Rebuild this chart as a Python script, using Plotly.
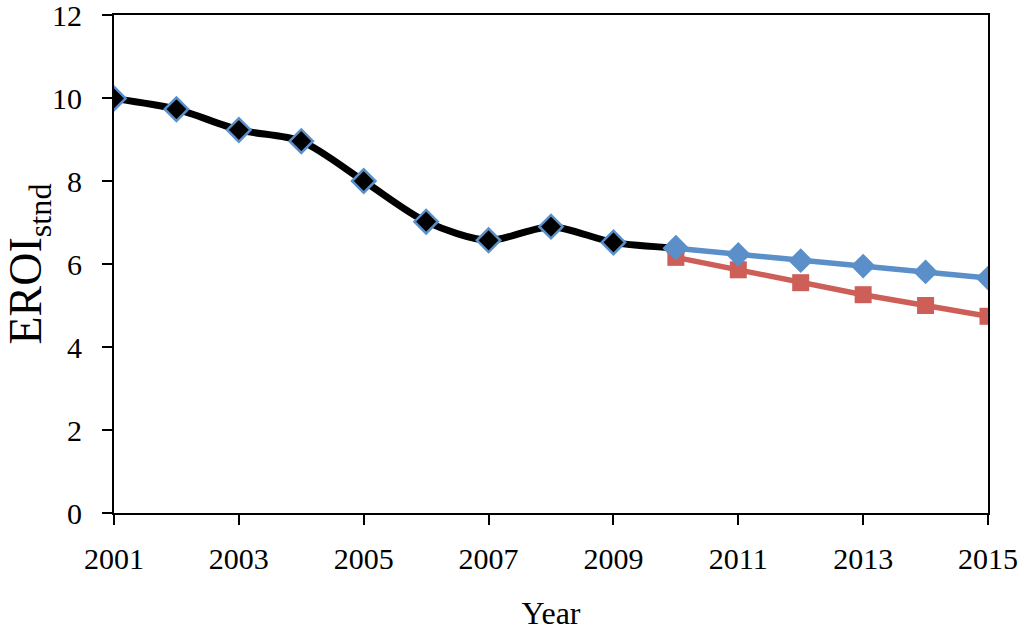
import plotly.graph_objects as go

# historical EROI (black, smoothed) and two projections
years_hist = [2001, 2002, 2003, 2004, 2005, 2006, 2007, 2008, 2009, 2010]
eroi_hist = [9.99, 9.73, 9.23, 8.96, 8.0, 7.02, 6.57, 6.9, 6.52, 6.38]

years_proj = [2010, 2011, 2012, 2013, 2014, 2015]
eroi_blue = [6.38, 6.23, 6.08, 5.95, 5.81, 5.66]
eroi_red = [6.16, 5.86, 5.55, 5.26, 5.0, 4.74]

x_ticks = [2001, 2003, 2005, 2007, 2009, 2011, 2013, 2015]
y_ticks = [0, 2, 4, 6, 8, 10, 12]

blue = "#5B8FCA"
red = "#CD5F58"
font = "Liberation Serif"

fig = go.Figure()

fig.add_trace(go.Scatter(
    x=years_hist, y=eroi_hist, mode="lines+markers",
    line=dict(color="black", width=7, shape="spline", smoothing=0.8),
    marker=dict(symbol="diamond", size=18, color="black",
                line=dict(color=blue, width=2.5)),
))
fig.add_trace(go.Scatter(
    x=years_proj, y=eroi_red, mode="lines+markers",
    line=dict(color=red, width=5.5),
    marker=dict(symbol="square", size=17, color=red),
))
fig.add_trace(go.Scatter(
    x=years_proj, y=eroi_blue, mode="lines+markers",
    line=dict(color=blue, width=5.5),
    marker=dict(symbol="diamond", size=19, color=blue),
))

fig.update_layout(
    width=1024, height=631,
    margin=dict(l=114, r=36, t=15, b=118, autoexpand=False),
    paper_bgcolor="white", plot_bgcolor="white",
    showlegend=False,
    font=dict(family=font, color="black", size=30),
)
fig.update_xaxes(
    range=[2001, 2015], tickvals=x_ticks, ticktext=[str(t) for t in x_ticks],
    ticks="outside", ticklen=10, tickwidth=2, tickcolor="black",
    showline=True, linecolor="black", linewidth=2, mirror=True,
    showgrid=False, zeroline=False, ticklabelstandoff=8, automargin=False,
    ticklabeloverflow="allow",
    tickfont=dict(family=font, size=30),
    title=dict(text="Year", font=dict(family=font, size=32), standoff=28),
)
fig.update_yaxes(
    range=[0, 12], tickvals=y_ticks,
    ticks="outside", ticklen=10, tickwidth=2, tickcolor="black",
    showline=True, linecolor="black", linewidth=2, mirror=True,
    showgrid=False, zeroline=False, ticklabelstandoff=14, automargin=False,
    ticklabeloverflow="allow",
    tickfont=dict(family=font, size=30),
    title=dict(text="EROI<sub>stnd</sub>", font=dict(family=font, size=46), standoff=4),
)

# drop the default 8px page margin so the figure sits at the window corner
fig.write_html("out.html", config={"displayModeBar": False},
               post_script="document.body.style.margin='0';")
